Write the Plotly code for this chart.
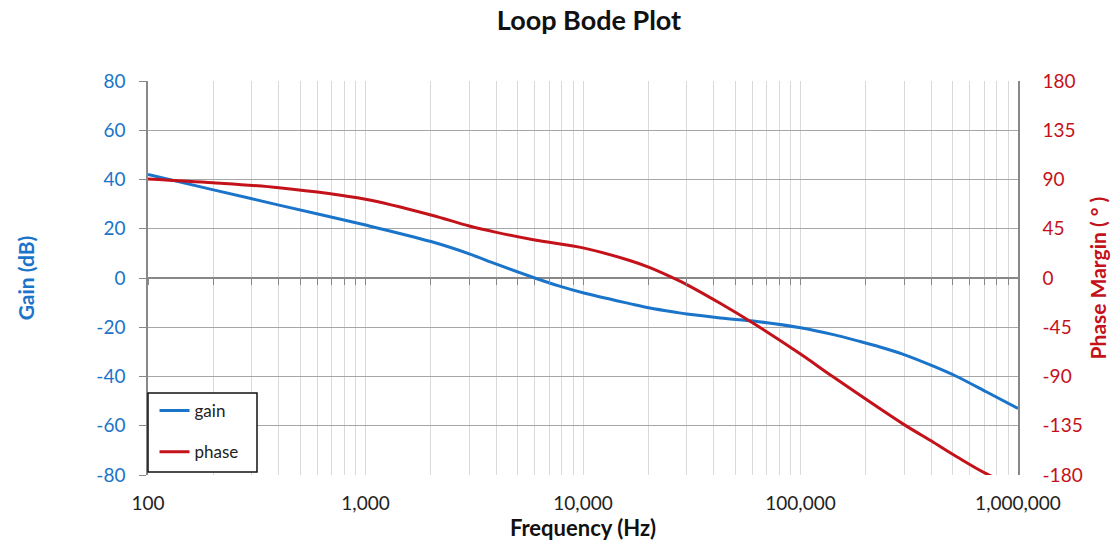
import plotly.graph_objects as go

# Loop response samples
gain_freq_hz = [100, 200, 400, 1000, 2000, 3000, 4000, 6000, 7800, 10000, 16400,
                20300, 27000, 30000, 42700, 52700, 60700, 100000, 141700, 188000,
                232000, 297000, 408000, 523000, 718000, 1000000]
gain_db = [42, 35.8, 29.6, 21.5, 14.8, 9.8, 5.6, 0, -3.3, -6.0, -10.4,
           -12.2, -14.0, -14.6, -16.2, -17.0, -17.5, -20.2, -23.0, -25.8,
           -28.0, -31.0, -35.8, -40.0, -46.3, -53]

phase_freq_hz = [100, 200, 400, 1000, 2000, 3000, 4000, 6000, 10000, 16400,
                 20300, 27000, 30000, 42700, 60700, 100000, 141700, 297000,
                 408000, 523000, 718000, 1000000]
phase_deg = [90.5, 87, 82.5, 72, 57.6, 47.5, 41.7, 34.7, 27.5, 16,
             9.5, -1.5, -6, -23.1, -41.4, -69.5, -90.5, -133.5,
             -150, -163.3, -179, -191]

gain_ticks = [-80, -60, -40, -20, 0, 20, 40, 60, 80]
gain_labels = ["-80", "-60", "-40", "-20", "0", "20", "40", "60", "80"]
phase_ticks = [-180, -135, -90, -45, 0, 45, 90, 135, 180]
phase_labels = ["-180", "-135", "-90", "-45", "0", "45", "90", "135", "180"]
freq_ticks = [100, 1000, 10000, 100000, 1000000]
freq_labels = ["100", "1,000", "10,000", "100,000", "1,000,000"]

BLUE = "#1a74c9"
RED = "#c4121a"
FONT = "Lato"

minor_vals = [m * 10 ** d for d in range(2, 6) for m in range(2, 10)]
all_vals = sorted(freq_ticks + minor_vals)

fig = go.Figure()
fig.add_trace(go.Scatter(x=gain_freq_hz, y=gain_db, name="gain", mode="lines", legendgroup="g",
                         line=dict(color=BLUE, width=3, shape="spline", smoothing=0.9)))
fig.add_trace(go.Scatter(x=phase_freq_hz, y=phase_deg, name="phase", mode="lines", yaxis="y2",
                         legendgroup="p",
                         line=dict(color=RED, width=3, shape="spline", smoothing=0.9)))
# invisible trace that keeps the zero-line tick axis drawn
fig.add_trace(go.Scatter(x=[100, 1000000], y=[0, 0], xaxis="x2", mode="lines",
                         line=dict(width=0), showlegend=False, hoverinfo="skip"))

# legend frame
fig.add_shape(type="rect", xref="paper", yref="paper",
              x0=0, x1=(257 - 148) / 870, y0=(475 - 472) / 394, y1=(475 - 393) / 394,
              line=dict(color="#111", width=1.5), fillcolor="white", layer="above")

fig.update_layout(
    width=1117, height=548,
    margin=dict(l=148, r=99, t=81, b=73),
    paper_bgcolor="white", plot_bgcolor="white",
    font=dict(family=FONT, size=17, color="#222"),
    title=dict(text="<b>Loop Bode Plot</b>", x=589 / 1117, xanchor="center",
               y=1 - 21 / 548, yanchor="middle", font=dict(size=27, color="#111")),
    showlegend=True,
    legend=dict(x=0.0075, y=(475 - 393) / 394, xanchor="left", yanchor="top",
                bgcolor="rgba(0,0,0,0)", borderwidth=0,
                font=dict(size=17, color="#222"), traceorder="grouped",
                itemwidth=30, tracegroupgap=16),
    xaxis=dict(
        type="log", range=[2, 6], tickvals=freq_ticks, ticktext=freq_labels,
        showgrid=True, gridcolor="#d9d9d9", gridwidth=1,
        minor=dict(tickvals=minor_vals, showgrid=True, gridcolor="#d9d9d9", gridwidth=1),
        ticks="", showline=False, zeroline=False, automargin=False,
        tickfont=dict(size=19, color="#222"), ticklabelstandoff=15,
        title=dict(text="<b>Frequency (Hz)</b>", font=dict(size=22, color="#111"), standoff=6),
    ),
    xaxis2=dict(
        type="log", range=[2, 6], overlaying="x", anchor="free", position=0.5,
        side="bottom", tickvals=all_vals, showticklabels=False, ticks="outside",
        ticklen=6, tickcolor="#888", showgrid=False, showline=False, automargin=False,
    ),
    yaxis=dict(
        range=[-80, 80], tickvals=gain_ticks, ticktext=gain_labels,
        showgrid=True, gridcolor="#a6a6a6", gridwidth=1,
        zeroline=True, zerolinecolor="#888", zerolinewidth=1.5,
        showline=True, linecolor="#888", linewidth=1.5, automargin=False,
        ticks="outside", ticklen=7, tickcolor="#888",
        tickfont=dict(size=19, color=BLUE), ticklabelstandoff=10,
        title=dict(text="<b>Gain (dB)</b>", font=dict(size=21, color=BLUE), standoff=56),
    ),
    yaxis2=dict(
        range=[-180, 180], tickvals=phase_ticks, ticktext=phase_labels,
        overlaying="y", side="right", automargin=False,
        showgrid=False, zeroline=False, showline=True, linecolor="#888", linewidth=1.5,
        ticks="", tickfont=dict(size=19, color=RED), ticklabelstandoff=19,
        title=dict(text="<b>Phase Margin ( ° )</b>", font=dict(size=21, color=RED), standoff=10),
    ),
)

fig.write_html("out.html")
